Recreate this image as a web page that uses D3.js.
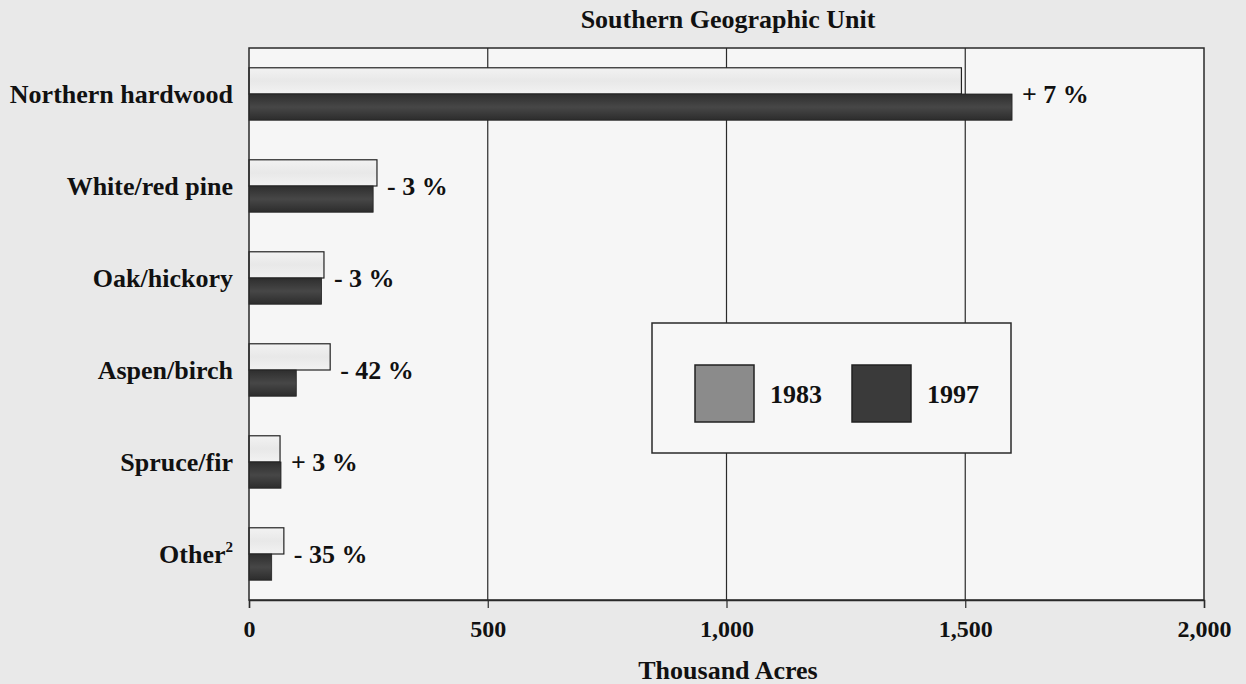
<!DOCTYPE html>
<html>
<head>
<meta charset="utf-8">
<script src="https://cdn.jsdelivr.net/npm/d3@7"></script>
<style>
  html, body { margin: 0; padding: 0; background: #e9e9e9; }
  svg { display: block; }
  text { font-family: "Liberation Serif", "Times New Roman", serif; font-weight: bold; fill: #111; }
</style>
</head>
<body>
<svg id="chart" width="1246" height="684"></svg>
<script>
// Forest type area, thousand acres
const categories = ["Northern hardwood", "White/red pine", "Oak/hickory", "Aspen/birch", "Spruce/fir", "Other"];
const values1983 = [1492, 268, 157, 170, 65, 73];
const values1997 = [1598, 260, 152, 99, 67, 47.5];
const years = ["1983", "1997"];
const xTicks = [0, 500, 1000, 1500, 2000];

const W = 1246, H = 684;
const margin = { top: 48, right: 42, bottom: 84, left: 249 };
const svg = d3.select("#chart");

svg.append("rect").attr("width", W).attr("height", H).attr("fill", "#e9e9e9");

const x = d3.scaleLinear().domain([0, 2000]).range([margin.left, W - margin.right]);
const y = d3.scaleBand().domain(categories).range([margin.top, H - margin.bottom]).paddingInner(0.43).paddingOuter(0.215);
const sub = d3.scaleBand().domain(years).range([0, y.bandwidth()]);

// plot area
svg.append("rect")
  .attr("x", x(0)).attr("y", margin.top)
  .attr("width", x(2000) - x(0)).attr("height", H - margin.bottom - margin.top)
  .attr("fill", "#f6f6f6");

// vertical gridlines
svg.append("g").selectAll("line").data(xTicks.slice(1, -1)).join("line")
  .attr("x1", d => x(d)).attr("x2", d => x(d))
  .attr("y1", margin.top).attr("y2", H - margin.bottom)
  .attr("stroke", "#2a2a2a").attr("stroke-width", 1.2);

// gradients for bars
const defs = svg.append("defs");
const gDark = defs.append("linearGradient").attr("id", "gDark").attr("x1", 0).attr("y1", 0).attr("x2", 0).attr("y2", 1);
gDark.append("stop").attr("offset", "0%").attr("stop-color", "#2e2e2e");
gDark.append("stop").attr("offset", "50%").attr("stop-color", "#474747");
gDark.append("stop").attr("offset", "100%").attr("stop-color", "#2c2c2c");
const gLight = defs.append("linearGradient").attr("id", "gLight").attr("x1", 0).attr("y1", 0).attr("x2", 0).attr("y2", 1);
gLight.append("stop").attr("offset", "0%").attr("stop-color", "#f2f2f2");
gLight.append("stop").attr("offset", "50%").attr("stop-color", "#e8e8e8");
gLight.append("stop").attr("offset", "100%").attr("stop-color", "#f2f2f2");

const rows = categories.map((c, i) => ({ c, v83: values1983[i], v97: values1997[i] }));

const groups = svg.append("g").selectAll("g").data(rows).join("g")
  .attr("transform", d => `translate(0,${y(d.c)})`);

groups.append("rect")
  .attr("x", x(0)).attr("y", sub("1983"))
  .attr("width", d => x(d.v83) - x(0)).attr("height", sub.bandwidth())
  .attr("fill", "url(#gLight)").attr("stroke", "#222").attr("stroke-width", 1.2);

groups.append("rect")
  .attr("x", x(0)).attr("y", sub("1997"))
  .attr("width", d => x(d.v97) - x(0)).attr("height", sub.bandwidth())
  .attr("fill", "url(#gDark)").attr("stroke", "#222").attr("stroke-width", 0.8);

// percent change labels
const fmtPct = d => {
  const p = Math.round((d.v97 - d.v83) / d.v83 * 100);
  return (p >= 0 ? "+ " : "- ") + Math.abs(p) + " %";
};
groups.append("text")
  .attr("x", d => x(Math.max(d.v83, d.v97)) + 10)
  .attr("y", y.bandwidth() / 2 + 9)
  .attr("font-size", 26)
  .text(fmtPct);

// frame
svg.append("rect")
  .attr("x", x(0)).attr("y", margin.top)
  .attr("width", x(2000) - x(0)).attr("height", H - margin.bottom - margin.top)
  .attr("fill", "none").attr("stroke", "#2a2a2a").attr("stroke-width", 1.5);

// x axis
const xAxis = svg.append("g")
  .attr("transform", `translate(0,${H - margin.bottom})`)
  .call(d3.axisBottom(x).tickValues(xTicks).tickSize(8).tickPadding(12).tickFormat(d3.format(",")));
xAxis.select(".domain").attr("stroke", "#2a2a2a").attr("stroke-width", 1.5);
xAxis.selectAll(".tick line").attr("stroke", "#2a2a2a").attr("stroke-width", 1.2);
xAxis.selectAll(".tick text").attr("font-size", 24).attr("font-family", "Liberation Serif, serif").attr("font-weight", "bold").attr("fill", "#111");

// category labels
const catLabels = svg.append("g").selectAll("text").data(categories).join("text")
  .attr("x", 233)
  .attr("y", d => y(d) + y.bandwidth() / 2 + 9)
  .attr("text-anchor", "end")
  .attr("font-size", 26);
catLabels.each(function(d) {
  const t = d3.select(this);
  t.append("tspan").text(d);
  if (d === "Other") {
    t.append("tspan").attr("font-size", 15).attr("dy", -11).text("2");
  }
});

// title and axis title
svg.append("text").attr("x", 728).attr("y", 28).attr("text-anchor", "middle").attr("font-size", 26)
  .text("Southern Geographic Unit");
svg.append("text").attr("x", 728).attr("y", 679).attr("text-anchor", "middle").attr("font-size", 26)
  .text("Thousand Acres");

// legend
const legend = svg.append("g").attr("transform", "translate(652,323)");
legend.append("rect").attr("width", 359).attr("height", 130)
  .attr("fill", "#f7f7f7").attr("stroke", "#2a2a2a").attr("stroke-width", 1.5);
const swatchFill = { "1983": "#8b8b8b", "1997": "#3a3a3a" };
const lg = legend.selectAll("g").data(years).join("g")
  .attr("transform", (d, i) => `translate(${43 + i * 157},42)`);
lg.append("rect").attr("width", 59).attr("height", 57)
  .attr("fill", d => swatchFill[d]).attr("stroke", "#222").attr("stroke-width", 1.5);
lg.append("text").attr("x", 75).attr("y", 38).attr("font-size", 26).text(d => d);
</script>
</body>
</html>
